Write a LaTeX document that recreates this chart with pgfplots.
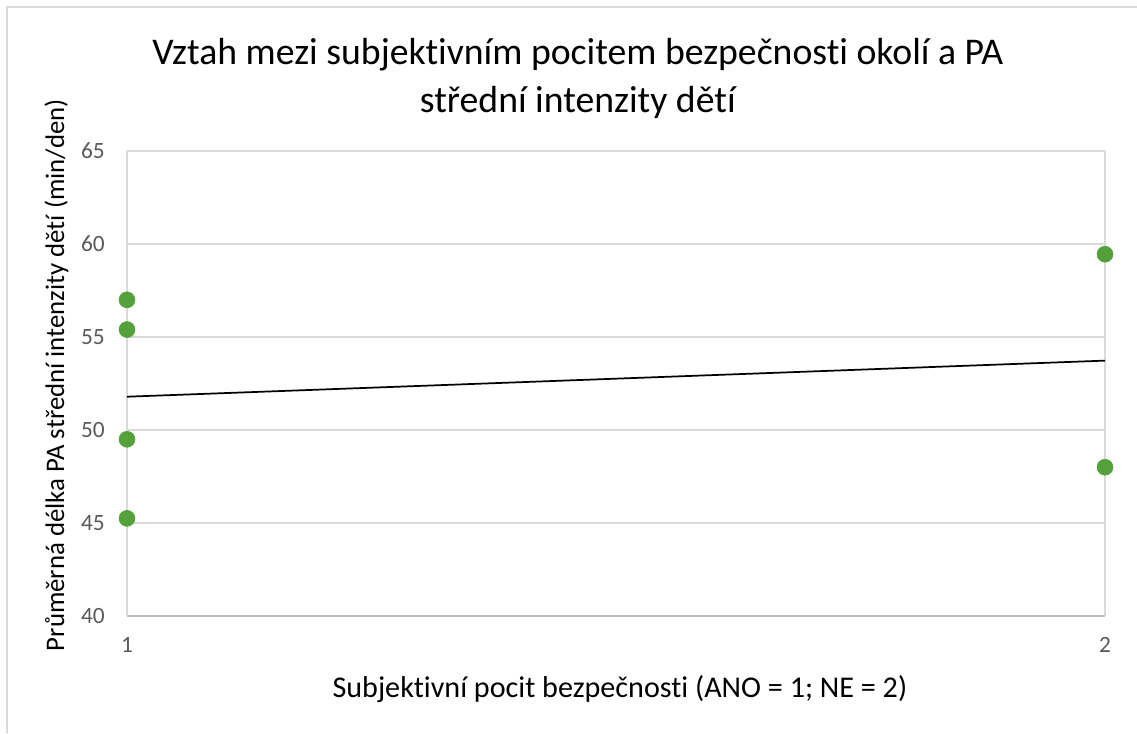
\documentclass[border=0pt]{standalone}
\usepackage{fontspec}
\setmainfont{Carlito}[Ligatures=NoCommon]
\usepackage{pgfplots}
\pgfplotsset{compat=1.18}
\definecolor{ptgreen}{RGB}{84,160,58}
\definecolor{gridc}{RGB}{217,217,217}
\definecolor{axc}{RGB}{191,191,191}
\definecolor{tickc}{RGB}{89,89,89}
\begin{document}
\begin{tikzpicture}
\path[use as bounding box] (0pt,0pt) rectangle (852.75pt,549.75pt);
\draw[gridc, line width=1.2pt] (5.25pt,0pt) -- (5.25pt,544.5pt) -- (852.75pt,544.5pt);
\begin{axis}[
  at={(95.25pt,87.75pt)}, anchor=south west,
  width=733.5pt, height=348.75pt, scale only axis,
  xmin=1, xmax=2, ymin=40, ymax=65,
  xtick={1,2}, ytick={40,45,50,55,60,65},
  axis lines*=left,
  x axis line style={axc, line width=1pt},
  y axis line style={gridc, line width=1pt},
  grid=major,
  grid style={gridc, line width=1pt},
  major tick length=0pt,
  /pgf/number format/assume math mode=true,
  ticklabel style={font=\fontsize{17.5}{20}\selectfont, text=tickc},
  yticklabel style={anchor=east, inner sep=0pt, xshift=-16.5pt},
  xticklabel style={anchor=north, inner sep=0pt, yshift=-16pt},
  xlabel={Subjektivní pocit bezpečnosti (ANO = 1; NE = 2)},
  xlabel style={at={(axis description cs:0.504,0)}, anchor=base, yshift=-60.75pt, inner sep=0pt,
    font=\fontsize{22.6}{26}\selectfont},
  ylabel={Průměrná délka PA střední intenzity dětí (min/den)},
  ylabel style={at={(axis description cs:-0.0644,0.518)}, anchor=base, rotate=0, inner sep=0pt,
    font=\fontsize{20.1}{24}\selectfont},
  title={Vztah mezi subjektivním pocitem bezpečnosti okolí a PA\\střední intenzity dětí},
  title style={at={(axis description cs:0.461,1)}, anchor=south, yshift=17.75pt, inner sep=0pt,
    align=center, font=\fontsize{28.3}{36}\selectfont},
]
\addplot[only marks, mark=*, mark size=6pt, mark options={fill=ptgreen, draw=ptgreen}]
  coordinates {(1,57.0) (1,55.4) (1,49.5) (1,45.25) (2,59.45) (2,48.0)};
\addplot[black, line width=1.3pt] coordinates {(1,51.79) (2,53.73)};
\end{axis}
\end{tikzpicture}
\end{document}
